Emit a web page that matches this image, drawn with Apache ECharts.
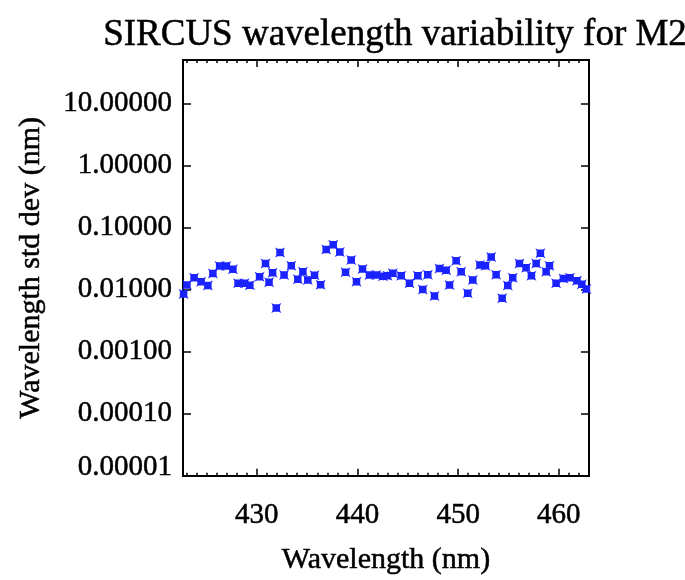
<!DOCTYPE html>
<html>
<head>
<meta charset="utf-8">
<script src="https://cdn.jsdelivr.net/npm/echarts@6/dist/echarts.min.js"></script>
<style>html,body{margin:0;padding:0;background:#fff;}#c{width:685px;height:580px;}</style>
</head>
<body>
<div id="c"></div>
<script>
const titleText = 'SIRCUS wavelength variability for M2';
const xName = 'Wavelength (nm)';
const yName = 'Wavelength std dev (nm)';
const wavelength = [422.72,423.05,423.76,424.46,425.13,425.63,426.30,426.96,427.62,428.13,428.78,429.30,430.27,430.86,431.21,431.56,431.93,432.30,432.70,433.42,434.07,434.57,435.06,435.73,436.33,436.89,437.59,438.24,438.81,439.37,439.90,440.50,441.19,441.86,442.53,442.98,443.51,444.34,445.16,445.99,446.48,446.98,447.65,448.14,448.81,449.14,449.80,450.30,450.95,451.45,452.17,452.71,453.28,453.77,454.37,454.93,455.42,456.09,456.75,457.28,457.75,458.17,458.74,459.07,459.73,460.46,461.10,461.80,462.29,462.74];
const stdDev = [0.00848,0.01188,0.01552,0.0134,0.01158,0.01816,0.02408,0.02408,0.02118,0.01259,0.01259,0.01179,0.0161,0.0262,0.01316,0.01863,0.00505,0.0395,0.01713,0.02425,0.01469,0.01932,0.01426,0.0170,0.0120,0.04406,0.0529,0.0402,0.01897,0.0300,0.0134,0.02142,0.01713,0.01713,0.0164,0.0167,0.0183,0.0167,0.01259,0.0167,0.0100,0.01732,0.00788,0.0218,0.02056,0.01188,0.0291,0.01932,0.00873,0.01426,0.02497,0.0241,0.03346,0.01732,0.00727,0.01158,0.01552,0.0262,0.0224,0.0167,0.0262,0.0383,0.0193,0.02425,0.01259,0.01513,0.01552,0.0139,0.01223,0.0102];
const xMajorTicks = [430,440,450,460];
const xMinorTicks = [423,424,425,426,427,428,429,431,432,433,434,435,436,437,438,439,441,442,443,444,445,446,447,448,449,451,452,453,454,455,456,457,458,459,461,462];
const yTicks = [0.00001,0.0001,0.001,0.01,0.1,1,10];
const xMin = 422.66, xMax = 463.0, yMin = 0.00001, yMax = 50;

const font = 'Liberation Serif';
const black = '#000';
const thick = {textBorderColor: '#000', textBorderWidth: 0.5};
function xAx(pos, ticks, len, labels) {
  return {
    type: 'value', position: pos, min: xMin, max: xMax,
    axisLine: {show: true, onZero: false, lineStyle: {color: black, width: 2}},
    axisTick: {show: true, inside: true, length: len, customValues: ticks, lineStyle: {color: black, width: 1.5}},
    axisLabel: labels ? Object.assign({show: true, customValues: xMajorTicks, margin: 25, fontFamily: font, fontSize: 29, color: black}, thick) : {show: false},
    splitLine: {show: false},
    name: labels ? xName : '', nameLocation: 'middle', nameGap: 69,
    nameTextStyle: Object.assign({fontFamily: font, fontSize: 30, color: black}, thick)
  };
}
function yAx(pos, labels) {
  return {
    type: 'log', logBase: 10, position: pos, min: yMin, max: yMax,
    axisLine: {show: true, onZero: false, lineStyle: {color: black, width: 2}},
    axisTick: {show: true, inside: true, length: 8, customValues: yTicks, lineStyle: {color: black, width: 1.5}},
    axisLabel: labels ? Object.assign({show: true, customValues: yTicks, margin: 11, fontFamily: font, fontSize: 29, color: black,
      formatter: v => (Math.abs(v - yMin) < 1e-9 ? '{low|' + Number(v).toFixed(5) + '}' : Number(v).toFixed(5)),
      rich: {low: Object.assign({fontFamily: font, fontSize: 29, color: black, padding: [0, 0, 16, 0]}, thick)}}, thick) : {show: false},
    splitLine: {show: false}, minorTick: {show: false},
    name: labels ? yName : '', nameLocation: 'middle', nameGap: 137, nameRotate: 90,
    nameTextStyle: Object.assign({fontFamily: font, fontSize: 30, color: black}, thick)
  };
}
const chart = echarts.init(document.getElementById('c'), null, {renderer: 'canvas'});
chart.setOption({
  backgroundColor: '#fff',
  animation: false,
  title: {text: titleText, left: 390, top: 12, textAlign: 'center',
    textStyle: Object.assign({fontFamily: font, fontSize: 37, fontWeight: 'normal', color: black}, thick)},
  grid: {left: 183, right: 96, top: 60, bottom: 97, containLabel: false},
  xAxis: [xAx('bottom', xMajorTicks, 7, true), xAx('bottom', xMinorTicks, 3, false),
          xAx('top', xMajorTicks, 7, false), xAx('top', xMinorTicks, 3, false)],
  yAxis: [yAx('left', true), yAx('right', false)],
  series: [{
    type: 'scatter', xAxisIndex: 0, yAxisIndex: 0,
    data: wavelength.map((w, i) => [w, stdDev[i]]),
    symbol: 'path://M0,0 L2,1 L6,1 L8,0 L7,2 L7,6 L8,8 L6,7 L2,7 L0,8 L1,6 L1,2 Z',
    symbolSize: 10,
    itemStyle: {color: '#1a22ff', opacity: 1}
  }]
});
</script>
</body>
</html>
